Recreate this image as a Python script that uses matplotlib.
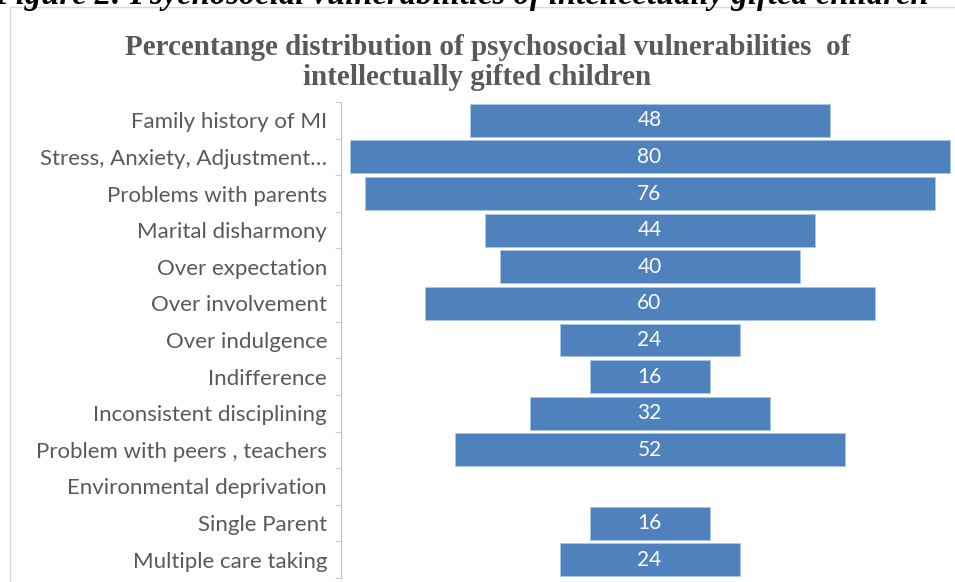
import matplotlib
matplotlib.use("Agg")
import matplotlib.pyplot as plt
from matplotlib.patches import Rectangle

categories = ["Family history of MI", "Stress, Anxiety, Adjustment\u2026", "Problems with parents",
              "Marital disharmony", "Over expectation", "Over involvement", "Over indulgence",
              "Indifference", "Inconsistent disciplining", "Problem with peers , teachers",
              "Environmental deprivation", "Single Parent", "Multiple care taking"]
values = [48, 80, 76, 44, 40, 60, 24, 16, 32, 52, 0, 16, 24]

title_lines = ["Percentange distribution of psychosocial vulnerabilities  of",
               "intellectually gifted children"]
caption = "Figure 2: Psychosocial vulnerabilities of intellectually gifted children"

W, H = 955, 582
fig = plt.figure(figsize=(W / 100, H / 100), dpi=100)
fig.patch.set_facecolor("white")

# chart frame
fig.patches.append(Rectangle((10 / W, -0.05), 1.2, 1 - 7 / H + 0.05, transform=fig.transFigure,
                             fill=False, edgecolor="#d9d9d9", linewidth=1.0))

# caption (cut off at top, as in the source)
fig.text(-6 / W, 1 - 4 / H, caption, family="Liberation Serif", weight="bold", style="italic",
         fontsize=23.5, va="baseline", ha="left", color="black")

fig.text(488 / W, 1 - 55 / H, title_lines[0], family="Liberation Serif", weight="bold",
         fontsize=21, ha="center", va="baseline", color="#595959")
fig.text(477 / W, 1 - 85 / H, title_lines[1], family="Liberation Serif", weight="bold",
         fontsize=21, ha="center", va="baseline", color="#595959")

ax = fig.add_axes([341 / W, 1 - 578 / H, 1 - 341 / W, (578 - 102) / H])
n = len(categories)
ypos = list(range(n))
lefts = [-v / 2 for v in values]
bars = ax.barh(ypos, values, left=lefts, height=0.9, color="#4F81BD", edgecolor="#a9c8ea",
               linewidth=0.6)
for b, v in zip(bars, values):
    if v == 0:
        b.set_visible(False)
for y, v in zip(ypos, values):
    if v > 0:
        ax.text(0, y, str(v), ha="center", va="center", color="white", fontsize=15,
                family="Lato")
ax.set_xlim(-(649.5 - 341) / 7.5, (955 - 649.5) / 7.5)
ax.set_ylim(n - 0.5, -0.5)
ax.set_yticks(ypos)
ax.set_yticklabels(categories, family="Lato", fontsize=16, color="#595959")
ax.set_yticks([i - 0.5 for i in range(n + 1)], minor=True)
ax.tick_params(axis="y", which="major", length=0, pad=10)
ax.tick_params(axis="y", which="minor", length=4, color="#bfbfbf", direction="out")
ax.set_xticks([])
for s in ["top", "right", "bottom"]:
    ax.spines[s].set_visible(False)
ax.spines["left"].set_color("#bfbfbf")
ax.spines["left"].set_linewidth(0.8)

fig.savefig("out.png", dpi=100)
